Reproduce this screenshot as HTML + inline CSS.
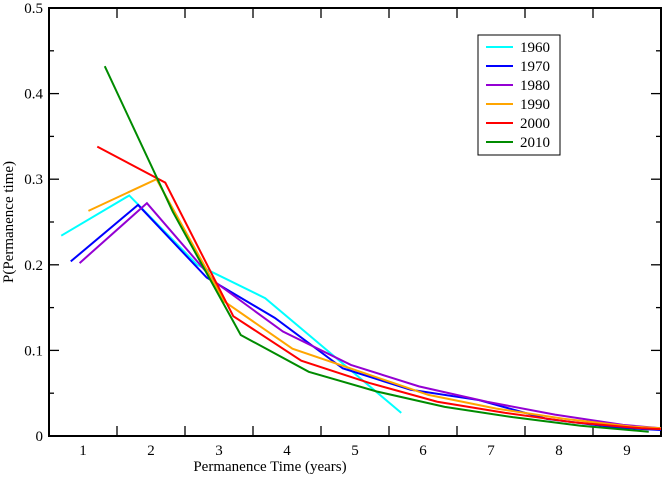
<!DOCTYPE html>
<html><head><meta charset="utf-8"><style>
body{margin:0;background:#fff}
svg text{font-family:"Liberation Serif",serif;fill:#000}
</style></head><body>
<svg id="chart" width="664" height="476" xmlns="http://www.w3.org/2000/svg">
<g id="axes"></g><g id="series"></g><g id="legend"></g>
</svg>
<script>
const years=["1960","1970","1980","1990","2000","2010"];
const colors=["#00ffff","#0000ff","#9400d3","#ffa500","#ff0000","#008b00"];
const xs1960=[0.68,1.68,2.68,3.68,4.68,5.68];
const ys1960=[0.234,0.281,0.200,0.161,0.094,0.027];
const xs1970=[0.82,1.81,2.82,3.82,4.82,5.82,6.82,7.82,8.82,9.5];
const ys1970=[0.204,0.270,0.185,0.138,0.079,0.054,0.042,0.020,0.010,0.007];
const xs1980=[0.95,1.94,2.94,3.94,4.94,5.94,6.94,7.94,8.94,9.5];
const ys1980=[0.202,0.272,0.180,0.122,0.083,0.058,0.040,0.025,0.013,0.009];
const xs1990=[1.08,2.08,3.08,4.08,5.08,6.08,7.08,8.08,9.08,9.5];
const ys1990=[0.263,0.300,0.157,0.102,0.075,0.048,0.032,0.020,0.011,0.009];
const xs2000=[1.21,2.21,3.21,4.21,5.21,6.21,7.21,8.21,9.21,9.5];
const ys2000=[0.338,0.296,0.140,0.088,0.062,0.040,0.027,0.016,0.009,0.008];
const xs2010=[1.32,2.32,3.32,4.32,5.32,6.32,7.32,8.32,9.32];
const ys2010=[0.432,0.262,0.118,0.075,0.052,0.034,0.022,0.012,0.005];
const xTickLabels=["1","2","3","4","5","6","7","8","9"];
const yTickLabels=["0","0.1","0.2","0.3","0.4","0.5"];
const X0=49,X1=661,Y0=436,Y1=8,XMIN=0.5,XMAX=9.5,YMAX=0.5;
function sx(v){return X0+(v-XMIN)/(XMAX-XMIN)*(X1-X0);}
function sy(v){return Y0-v/YMAX*(Y0-Y1);}
const NS="http://www.w3.org/2000/svg";
function mk(tag,attrs,parent){const e=document.createElementNS(NS,tag);for(const k in attrs)e.setAttribute(k,attrs[k]);parent.appendChild(e);return e;}
const ax=document.getElementById('axes');
const frame=mk('rect',{x:X0,y:Y1,width:X1-X0,height:Y0-Y1,fill:'none',stroke:'#000','stroke-width':2},ax);


for(let i=0;i<=10;i++){const v=i*0.05,y=sy(v),L=i%2==0?10:5;
 const t1=mk('line',{x1:X0,x2:X0+L,y1:y,y2:y,stroke:'#000','stroke-width':1.3},ax);
 
 
 const t2=mk('line',{x1:X1,x2:X1-L,y1:y,y2:y,stroke:'#000','stroke-width':1.3},ax);
 
 }
yTickLabels.forEach((s,i)=>{const t=mk('text',{x:43,y:sy(i*0.1)+5,'text-anchor':'end','font-size':15},ax);t.textContent=s;
 
 });
for(let i=1;i<9;i++){const x=sx(i+0.5);
 const t=mk('line',{x1:x,x2:x,y1:Y0,y2:Y0-10,stroke:'#000','stroke-width':1.3},ax);
 
 
 const t2=mk('line',{x1:x,x2:x,y1:Y1,y2:Y1+10,stroke:'#000','stroke-width':1.3},ax);
 
 }
xTickLabels.forEach((s,i)=>{const t=mk('text',{x:sx(i+1),y:455,'text-anchor':'middle','font-size':15},ax);t.textContent=s;
 
 });
const xt=mk('text',{x:270,y:471,'text-anchor':'middle','font-size':15},ax);xt.textContent="Permanence Time (years)";


const yt=mk('text',{x:0,y:0,'text-anchor':'middle','font-size':15,transform:'translate(13,222) rotate(-90)'},ax);yt.textContent="P(Permanence time)";


const XS=[xs1960,xs1970,xs1980,xs1990,xs2000,xs2010],YS=[ys1960,ys1970,ys1980,ys1990,ys2000,ys2010];
const sg=document.getElementById('series');
XS.forEach((xa,k)=>{const pts=xa.map((x,i)=>sx(x)+','+sy(YS[k][i])).join(' ');
 const p=mk('polyline',{points:pts,fill:'none',stroke:colors[k],'stroke-width':2,'stroke-linejoin':'miter'},sg);
 
 });
const lg=document.getElementById('legend');
const box=mk('rect',{x:478,y:35,width:82,height:120,fill:'#fff',stroke:'#000','stroke-width':1},lg);


years.forEach((yr,k)=>{const y=47+k*19;
 const l=mk('line',{x1:486,x2:513,y1:y,y2:y,stroke:colors[k],'stroke-width':2},lg);
 
 
 const t=mk('text',{x:520,y:y+5,'font-size':15},lg);t.textContent=yr;
 
 });
</script>
</body></html>
